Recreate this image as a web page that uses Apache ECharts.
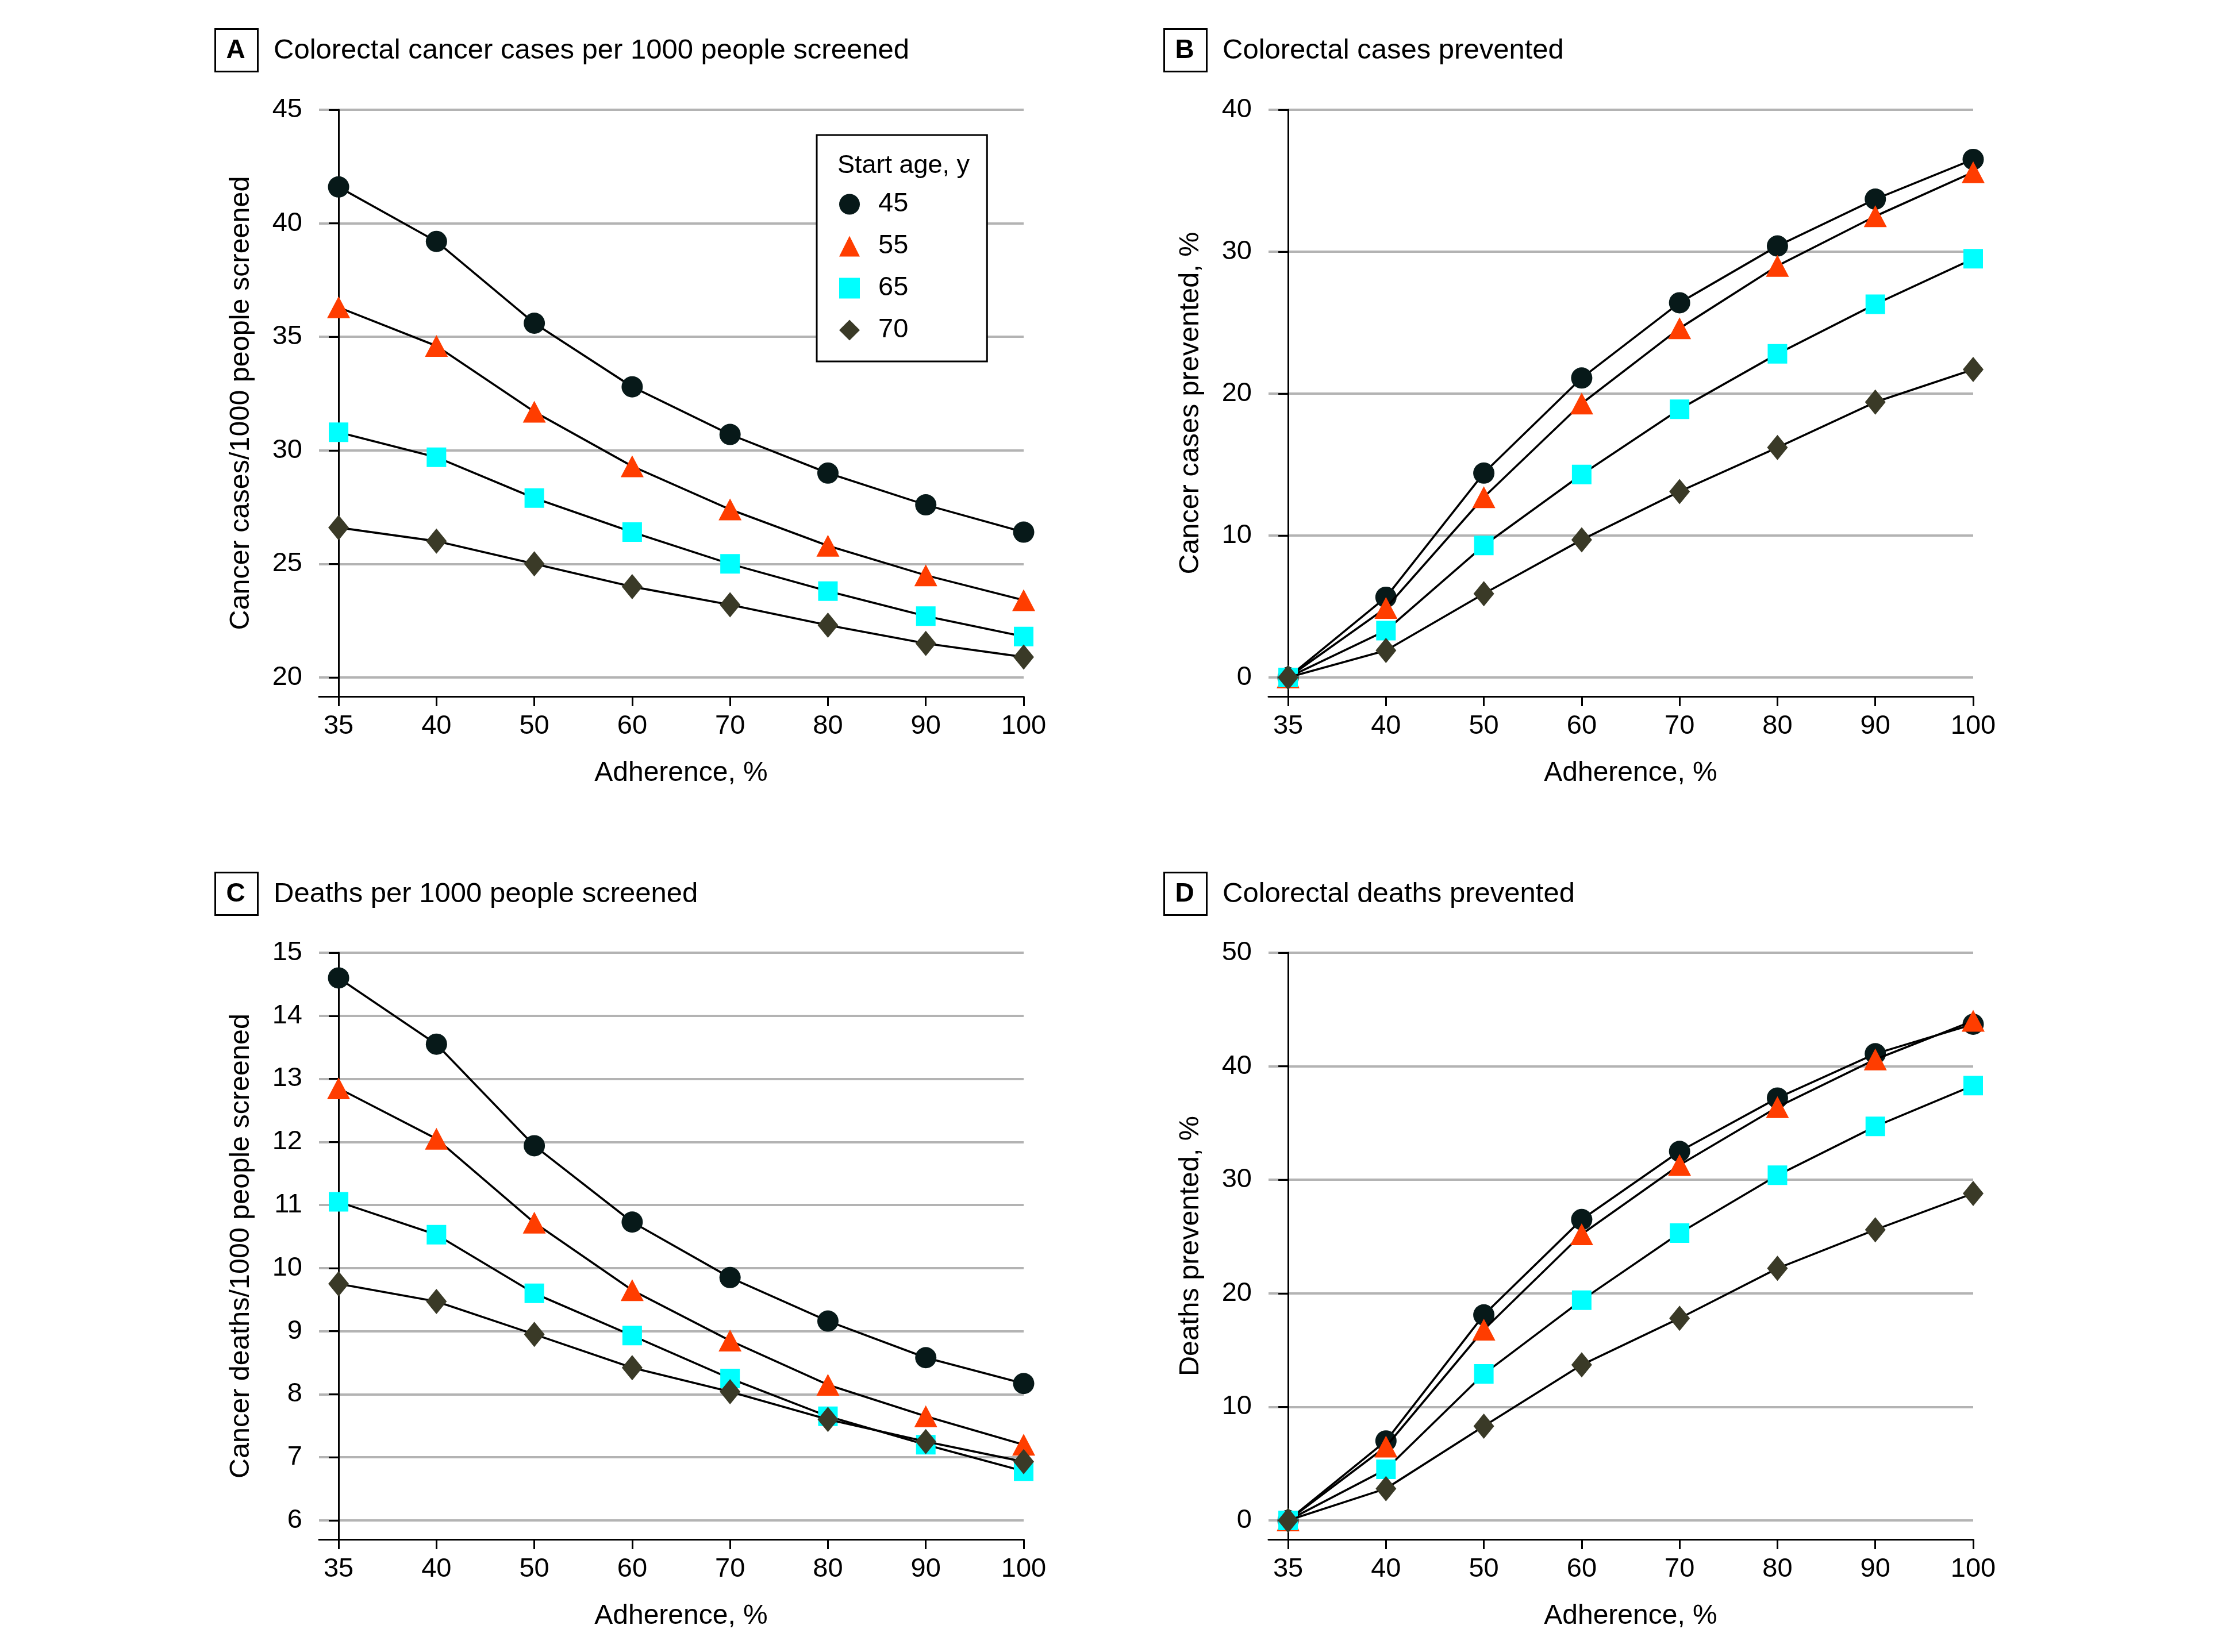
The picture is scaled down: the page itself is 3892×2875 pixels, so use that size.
<!DOCTYPE html>
<html>
<head>
<meta charset="utf-8">
<script src="https://cdn.jsdelivr.net/npm/echarts@6/dist/echarts.min.js"></script>
<style>
html,body{margin:0;padding:0;background:#fff;}
#chart{width:3892px;height:2875px;}
</style>
</head>
<body>
<div id="chart"></div>
<script>
// ---------- data ----------
const adherence = ['35', '40', '50', '60', '70', '80', '90', '100'];
const startAges = ['45', '55', '65', '70'];

// A: Colorectal cancer cases per 1000 people screened
const casesPer1000_45 = [41.6, 39.2, 35.6, 32.8, 30.7, 29.0, 27.6, 26.4];
const casesPer1000_55 = [36.3, 34.6, 31.7, 29.3, 27.4, 25.8, 24.5, 23.4];
const casesPer1000_65 = [30.8, 29.7, 27.9, 26.4, 25.0, 23.8, 22.7, 21.8];
const casesPer1000_70 = [26.6, 26.0, 25.0, 24.0, 23.2, 22.3, 21.5, 20.9];

// B: Colorectal cases prevented, %
const casesPrevented_45 = [0, 5.65, 14.4, 21.1, 26.4, 30.4, 33.7, 36.5];
const casesPrevented_55 = [0, 4.9, 12.7, 19.3, 24.6, 29.0, 32.5, 35.6];
const casesPrevented_65 = [0, 3.3, 9.3, 14.3, 18.9, 22.8, 26.3, 29.5];
const casesPrevented_70 = [0, 1.9, 5.9, 9.7, 13.1, 16.2, 19.4, 21.7];

// C: Deaths per 1000 people screened
const deathsPer1000_45 = [14.6, 13.55, 11.94, 10.73, 9.85, 9.16, 8.58, 8.17];
const deathsPer1000_55 = [12.85, 12.05, 10.72, 9.65, 8.85, 8.15, 7.65, 7.2];
const deathsPer1000_65 = [11.05, 10.53, 9.6, 8.93, 8.25, 7.65, 7.2, 6.78];
const deathsPer1000_70 = [9.75, 9.47, 8.95, 8.42, 8.04, 7.6, 7.25, 6.93];

// D: Colorectal deaths prevented, %
const deathsPrevented_45 = [0, 7.0, 18.1, 26.5, 32.5, 37.2, 41.1, 43.7];
const deathsPrevented_55 = [0, 6.5, 16.8, 25.2, 31.3, 36.4, 40.6, 44.0];
const deathsPrevented_65 = [0, 4.5, 12.9, 19.4, 25.3, 30.4, 34.7, 38.3];
const deathsPrevented_70 = [0, 2.8, 8.3, 13.7, 17.8, 22.2, 25.6, 28.8];

// tick labels
const yTicksA = [20, 25, 30, 35, 40, 45];
const yTicksB = [0, 10, 20, 30, 40];
const yTicksC = [6, 7, 8, 9, 10, 11, 12, 13, 14, 15];
const yTicksD = [0, 10, 20, 30, 40, 50];

const panelLetters = ['A', 'B', 'C', 'D'];
const panelTitles = [
  'Colorectal cancer cases per 1000 people screened',
  'Colorectal cases prevented',
  'Deaths per 1000 people screened',
  'Colorectal deaths prevented'
];
const yAxisNames = [
  'Cancer cases/1000 people screened',
  'Cancer cases prevented, %',
  'Cancer deaths/1000 people screened',
  'Deaths prevented, %'
];
const xAxisName = 'Adherence, %';
const legendTitle = 'Start age, y';

// ---------- styling / layout ----------
const FONT = 'Liberation Sans';
const markerColors = ['#071919', '#ff3d00', '#00ffff', '#3a3a27'];
const markerShapes = ['circle', 'triangle', 'rect', 'diamond'];
const markerSizes = [37, [40, 38], 34, [36, 44]];

const panelData = [
  [casesPer1000_45, casesPer1000_55, casesPer1000_65, casesPer1000_70],
  [casesPrevented_45, casesPrevented_55, casesPrevented_65, casesPrevented_70],
  [deathsPer1000_45, deathsPer1000_55, deathsPer1000_65, deathsPer1000_70],
  [deathsPrevented_45, deathsPrevented_55, deathsPrevented_65, deathsPrevented_70]
];
const yTicks = [yTicksA, yTicksB, yTicksC, yTicksD];
// bottom of each axis sits a little below the lowest tick
const yMins = [19.164, -1.337, 5.699, -1.672];

const gridLeft = [555, 2207, 555, 2207];
const gridTop = [191, 191, 1658, 1658];
const GRID_W = 1226, GRID_H = 1021;
const boxLeft = [373, 2024, 373, 2024];
const boxTop = [49, 49, 1517, 1517];
const BOX = 74;

const xIdx = adherence.map((_, i) => i);

const grids = [], xAxes = [], yAxes = [], series = [], graphics = [];
for (let p = 0; p < 4; p++) {
  grids.push({left: gridLeft[p], top: gridTop[p], width: GRID_W, height: GRID_H, containLabel: false});
  xAxes.push({
    gridIndex: p, type: 'value', min: -0.2, max: xIdx.length - 1,
    axisLine: {show: true, onZero: false, lineStyle: {color: '#000', width: 3}},
    axisTick: {show: true, customValues: xIdx, length: 17, lineStyle: {color: '#000', width: 3}},
    axisLabel: {customValues: xIdx, formatter: v => adherence[Math.round(v)], margin: 29,
      fontSize: 47, color: '#000', fontFamily: FONT},
    splitLine: {show: false},
    name: xAxisName, nameLocation: 'middle', nameGap: 110,
    nameTextStyle: {fontSize: 48, color: '#000', fontFamily: FONT, padding: [0, 0, 0, 34]}
  });
  const t = yTicks[p];
  yAxes.push({
    gridIndex: p, type: 'value', min: yMins[p], max: t[t.length - 1],
    axisLine: {show: true, lineStyle: {color: '#000', width: 3}},
    axisTick: {show: true, customValues: t, length: 17, lineStyle: {color: '#000', width: 3}},
    axisLabel: {customValues: t, margin: 29, fontSize: 47, color: '#000', fontFamily: FONT},
    splitLine: {show: true, lineStyle: {color: '#b3b3b3', width: 4}},
    name: yAxisNames[p], nameLocation: 'middle', nameGap: 111,
    nameTextStyle: {fontSize: 48.5, color: '#000', fontFamily: FONT}
  });
  for (let s = 0; s < 4; s++) {
    series.push({
      type: 'line', name: startAges[s], xAxisIndex: p, yAxisIndex: p,
      data: panelData[p][s].map((v, i) => [i, v]),
      symbol: markerShapes[s], symbolSize: markerSizes[s],
      lineStyle: {color: '#000', width: 3.6},
      itemStyle: {color: markerColors[s]},
      emphasis: {disabled: true},
      z: 2 + s
    });
  }
  graphics.push({
    type: 'rect', left: boxLeft[p], top: boxTop[p],
    shape: {width: BOX, height: BOX},
    style: {fill: '#fff', stroke: '#000', lineWidth: 3}
  });
  graphics.push({
    type: 'text', x: boxLeft[p] + BOX / 2, y: boxTop[p] + BOX / 2 + 2,
    style: {text: panelLetters[p], fontSize: 46, fontWeight: 'bold', fontFamily: FONT, fill: '#000',
      align: 'center', verticalAlign: 'middle'}
  });
  graphics.push({
    type: 'text', x: boxLeft[p] + 103, y: boxTop[p] + BOX / 2 + 2,
    style: {text: panelTitles[p], fontSize: 49, fontFamily: FONT, fill: '#000',
      align: 'left', verticalAlign: 'middle'}
  });
}
graphics.push({
  type: 'text', x: 1457, y: 289, z: 100,
  style: {text: legendTitle, fontSize: 45, fontFamily: FONT, fill: '#000', align: 'left', verticalAlign: 'middle'}
});

const chart = echarts.init(document.getElementById('chart'), null, {renderer: 'canvas'});
chart.setOption({
  animation: false,
  backgroundColor: '#fff',
  grid: grids,
  xAxis: xAxes,
  yAxis: yAxes,
  legend: {
    left: 1421, top: 235, orient: 'vertical', selectedMode: false,
    data: startAges.map((n, i) => ({name: n, icon: markerShapes[i]})),
    itemWidth: 36, itemHeight: 36, itemGap: 26,
    padding: [97, 137, 31, 39],
    backgroundColor: '#fff', borderColor: '#000', borderWidth: 3,
    textStyle: {fontSize: 47, color: '#000', fontFamily: FONT, padding: [0, 0, 0, 27]}
  },
  graphic: graphics,
  series: series
});
</script>
</body>
</html>
